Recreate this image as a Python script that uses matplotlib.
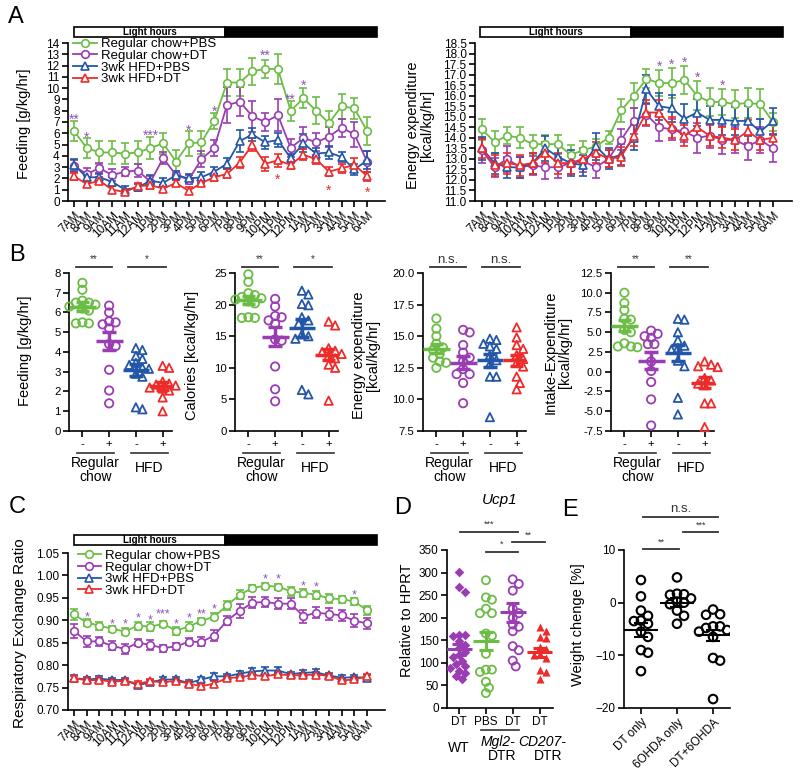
import numpy as np
import matplotlib.pyplot as plt
import matplotlib.transforms as mtransforms
from matplotlib.patches import Rectangle
from matplotlib.lines import Line2D

plt.rcParams['font.family'] = ['Liberation Sans', 'DejaVu Sans']
plt.rcParams['axes.linewidth'] = 1.2

GREEN = '#6cbd45'
PURPLE = '#9a3db2'
BLUE = '#2456a8'
RED = '#ee2b2b'
STAR_P = '#8e55b8'

hours = ['7AM', '8AM', '9AM', '10AM', '11AM', '12AM', '1PM', '2PM', '3PM', '4PM', '5PM', '6PM',
         '7PM', '8PM', '9PM', '10PM', '11PM', '12PM', '1AM', '2AM', '3AM', '4AM', '5AM', '6AM']
series_names = ['Regular chow+PBS', 'Regular chow+DT', '3wk HFD+PBS', '3wk HFD+DT']

# A: feeding [g/kg/hr]
feed_rc_pbs = [6.2, 4.7, 4.3, 4.3, 4.2, 4.3, 4.7, 5.1, 3.5, 5.1, 5.2, 7.1, 10.5, 10.5, 11.5, 11.7, 11.7, 8.0, 9.1, 8.0, 6.9, 8.4, 8.2, 6.2]
feed_rc_pbs_err = [0.9, 0.9, 1.0, 1.0, 0.9, 1.0, 1.0, 0.9, 1.0, 1.1, 1.0, 0.7, 1.2, 1.2, 1.2, 0.8, 1.3, 0.9, 0.9, 1.2, 1.1, 1.1, 0.9, 1.2]
feed_rc_dt = [3.1, 2.4, 2.9, 2.3, 2.6, 2.7, 1.7, 3.8, 2.3, 1.9, 3.7, 4.7, 8.5, 8.8, 7.5, 7.0, 7.6, 4.7, 5.6, 5.2, 5.7, 6.5, 5.9, 3.5]
feed_rc_dt_err = [0.5, 0.5, 0.5, 0.5, 0.4, 0.6, 0.5, 0.5, 0.4, 0.4, 0.7, 0.7, 1.6, 1.3, 1.4, 0.8, 1.4, 0.8, 1.0, 0.8, 0.9, 0.8, 1.1, 0.9]
feed_hfd_pbs = [3.2, 2.1, 2.1, 1.7, 1.0, 1.2, 1.8, 1.6, 2.3, 2.0, 2.1, 2.6, 3.3, 5.3, 5.9, 5.2, 5.4, 3.8, 5.1, 4.2, 4.3, 3.9, 2.8, 3.6]
feed_hfd_pbs_err = [0.5, 0.4, 0.4, 0.4, 0.3, 0.3, 0.5, 0.4, 0.4, 0.4, 0.5, 0.4, 0.5, 1.0, 0.6, 0.6, 0.6, 0.4, 0.8, 0.5, 0.6, 0.4, 0.5, 0.8]
feed_hfd_dt = [2.2, 1.5, 1.8, 1.0, 0.8, 1.3, 1.4, 1.1, 1.6, 0.9, 1.6, 2.1, 2.4, 3.4, 5.0, 3.3, 3.6, 3.2, 4.1, 3.7, 2.6, 2.9, 3.2, 2.2]
feed_hfd_dt_err = [0.3, 0.3, 0.3, 0.3, 0.2, 0.3, 0.3, 0.3, 0.3, 0.3, 0.3, 0.3, 0.4, 0.5, 0.6, 0.6, 0.6, 0.4, 0.5, 0.4, 0.4, 0.4, 0.6, 0.4]
feed_stars = [(0, 7.45, '**', STAR_P), (1, 5.9, '*', STAR_P), (6, 6.0, '***', STAR_P), (9, 6.45, '*', STAR_P),
              (11, 8.2, '*', STAR_P), (15, 13.1, '**', STAR_P), (17, 9.2, '**', STAR_P), (18, 10.45, '*', STAR_P),
              (16, 2.1, '*', RED), (20, 1.2, '*', RED), (23, 1.0, '*', RED)]

# A: energy expenditure [kcal/kg/hr]
ee_rc_pbs = [14.4, 13.8, 14.1, 14.0, 13.7, 13.7, 13.7, 13.2, 13.4, 13.6, 14.0, 15.3, 16.0, 16.8, 16.6, 16.6, 16.75, 16.0, 15.7, 15.7, 15.6, 15.65, 15.6, 14.75]
ee_rc_pbs_err = [0.5, 0.5, 0.4, 0.5, 0.45, 0.45, 0.45, 0.45, 0.45, 0.35, 0.3, 0.55, 0.6, 0.45, 0.6, 0.7, 0.65, 0.7, 0.65, 0.6, 0.65, 0.7, 0.7, 0.45]
ee_rc_dt = [13.4, 12.6, 13.0, 12.6, 12.7, 12.6, 12.6, 12.8, 12.9, 12.6, 13.0, 13.9, 14.8, 15.1, 14.5, 14.4, 14.3, 14.0, 14.1, 13.9, 13.9, 13.6, 13.9, 13.5]
ee_rc_dt_err = [0.6, 0.45, 0.6, 0.5, 0.45, 0.55, 0.5, 0.5, 0.5, 0.5, 0.4, 0.5, 0.6, 0.55, 0.65, 0.5, 0.5, 0.7, 0.6, 0.65, 0.6, 0.65, 0.6, 0.65]
ee_hfd_pbs = [13.5, 12.8, 12.6, 12.6, 12.8, 13.5, 13.1, 12.8, 12.7, 13.6, 13.0, 13.2, 14.0, 16.3, 15.5, 15.4, 14.9, 15.2, 14.85, 14.85, 14.8, 14.8, 14.3, 14.8]
ee_hfd_pbs_err = [0.55, 0.5, 0.5, 0.5, 0.5, 0.6, 0.6, 0.6, 0.5, 0.65, 0.5, 0.5, 0.6, 0.7, 0.65, 0.65, 0.7, 0.65, 0.65, 0.7, 0.65, 0.7, 0.6, 0.6]
ee_hfd_dt = [13.5, 12.7, 12.8, 12.7, 12.8, 13.3, 12.8, 12.8, 13.0, 13.3, 13.0, 13.1, 14.1, 15.2, 15.2, 14.5, 14.1, 14.5, 14.1, 14.0, 13.9, 14.3, 13.9, 14.0]
ee_hfd_dt_err = [0.45, 0.5, 0.5, 0.5, 0.5, 0.5, 0.5, 0.5, 0.5, 0.5, 0.4, 0.45, 0.5, 0.6, 0.6, 0.5, 0.5, 0.6, 0.5, 0.5, 0.5, 0.55, 0.5, 0.6]
ee_stars = [(14, 17.5, '*', STAR_P), (15, 17.6, '*', STAR_P), (16, 17.7, '*', STAR_P), (17, 17.0, '*', STAR_P), (19, 16.6, '*', STAR_P)]

# C: respiratory exchange ratio
rer_rc_pbs = [0.913, 0.895, 0.888, 0.881, 0.875, 0.888, 0.886, 0.892, 0.877, 0.886, 0.899, 0.908, 0.933, 0.957, 0.972, 0.977, 0.975, 0.965, 0.961, 0.957, 0.949, 0.947, 0.942, 0.922]
rer_rc_pbs_err = [0.012, 0.007, 0.009, 0.006, 0.008, 0.009, 0.010, 0.006, 0.009, 0.010, 0.007, 0.008, 0.009, 0.010, 0.007, 0.007, 0.007, 0.010, 0.008, 0.009, 0.010, 0.008, 0.007, 0.010]
rer_rc_dt = [0.876, 0.853, 0.853, 0.843, 0.836, 0.850, 0.845, 0.838, 0.842, 0.852, 0.852, 0.866, 0.899, 0.921, 0.939, 0.941, 0.937, 0.937, 0.909, 0.917, 0.914, 0.911, 0.899, 0.893]
rer_rc_dt_err = [0.015, 0.012, 0.010, 0.010, 0.012, 0.008, 0.012, 0.008, 0.008, 0.008, 0.010, 0.012, 0.010, 0.015, 0.012, 0.012, 0.012, 0.012, 0.015, 0.012, 0.013, 0.012, 0.014, 0.012]
rer_hfd_pbs = [0.771, 0.768, 0.770, 0.767, 0.767, 0.755, 0.762, 0.768, 0.768, 0.760, 0.768, 0.775, 0.775, 0.781, 0.786, 0.788, 0.788, 0.780, 0.783, 0.784, 0.777, 0.772, 0.773, 0.772]
rer_hfd_pbs_err = [0.007, 0.006, 0.005, 0.005, 0.005, 0.006, 0.005, 0.005, 0.005, 0.006, 0.005, 0.007, 0.005, 0.006, 0.007, 0.007, 0.007, 0.005, 0.006, 0.007, 0.006, 0.005, 0.005, 0.007]
rer_hfd_dt = [0.771, 0.766, 0.767, 0.763, 0.765, 0.759, 0.764, 0.762, 0.765, 0.759, 0.753, 0.759, 0.771, 0.773, 0.778, 0.775, 0.780, 0.777, 0.778, 0.779, 0.776, 0.766, 0.768, 0.775]
rer_hfd_dt_err = [0.005, 0.005, 0.005, 0.005, 0.004, 0.005, 0.005, 0.005, 0.004, 0.005, 0.005, 0.005, 0.004, 0.005, 0.005, 0.005, 0.005, 0.004, 0.005, 0.005, 0.005, 0.005, 0.005, 0.005]
rer_stars = [(1, 0.915, '*'), (3, 0.899, '*'), (4, 0.899, '*'), (5, 0.913, '*'), (6, 0.909, '*'), (7, 0.922, '***'),
             (8, 0.899, '*'), (9, 0.913, '*'), (10, 0.922, '**'), (11, 0.933, '*'), (15, 1.0, '*'), (16, 1.0, '*'),
             (18, 0.985, '*'), (19, 0.983, '*'), (22, 0.965, '*')]

# B: per-mouse averages (regular chow -/+ DT, HFD -/+ DT)
b_ticks = ['-', '+', '-', '+']
b_feed = [[7.5, 7.15, 6.6, 6.5, 6.5, 6.4, 6.3, 6.2, 6.1, 5.45, 5.45, 5.5],
          [6.35, 6.0, 5.55, 5.5, 5.4, 5.2, 4.4, 4.3, 3.1, 2.05, 1.4],
          [4.2, 4.1, 3.8, 3.65, 3.45, 3.35, 3.2, 3.15, 2.9, 2.75, 1.2, 1.1],
          [3.3, 3.2, 2.5, 2.4, 2.35, 2.3, 2.2, 2.15, 2.05, 1.7, 1.0]]
b_feed_mean = [6.3, 4.55, 3.1, 2.3]
b_feed_sem = [0.22, 0.45, 0.3, 0.2]
b_cal = [[24.8, 23.6, 21.8, 21.5, 21.2, 21.0, 20.8, 20.5, 20.2, 18.0, 17.9, 17.9],
         [20.9, 19.7, 18.2, 18.0, 17.5, 17.0, 14.5, 14.3, 10.2, 6.6, 4.7],
         [22.2, 21.6, 20.1, 19.9, 18.0, 17.5, 17.0, 15.3, 15.0, 14.6, 6.5, 5.8],
         [17.3, 16.7, 13.1, 12.7, 12.5, 12.2, 11.9, 11.5, 10.5, 10.0, 4.8]]
b_cal_mean = [20.7, 14.9, 16.3, 12.1]
b_cal_sem = [0.6, 1.5, 1.4, 0.9]
b_ee = [[16.4, 15.6, 15.0, 14.4, 14.1, 13.9, 13.6, 13.3, 13.0, 12.9, 12.5],
        [15.5, 15.3, 14.3, 13.7, 13.3, 13.0, 12.4, 12.0, 12.0, 11.3, 9.7],
        [14.8, 14.7, 14.4, 14.2, 14.0, 13.5, 13.1, 12.8, 11.8, 11.8, 8.6],
        [15.7, 14.9, 14.3, 14.0, 13.5, 13.2, 12.9, 12.6, 11.8, 11.3, 10.8]]
b_ee_mean = [14.0, 12.9, 13.1, 13.1]
b_ee_sem = [0.35, 0.5, 0.5, 0.45]
b_ie = [[10.0, 8.7, 7.8, 6.7, 6.6, 5.3, 5.0, 3.6, 3.2, 3.1, 3.2],
        [5.2, 4.8, 4.5, 4.3, 3.5, 3.5, 1.3, 0.1, -1.3, -3.5, -6.8],
        [6.7, 6.6, 5.0, 4.0, 3.3, 3.0, 2.8, 1.4, 0.7, -3.3, -5.4],
        [1.3, 0.9, 0.7, 0.6, -0.8, -1.1, -1.5, -1.7, -4.0, -4.0, -7.0]]
b_ie_mean = [5.8, 1.4, 2.4, -1.4]
b_ie_sem = [0.7, 1.05, 1.0, 0.7]

# D: Ucp1 relative to HPRT
d_ticks = ['DT', 'PBS', 'DT', 'DT']
d_wt_dt = [302, 268, 257, 162, 162, 160, 148, 140, 132, 125, 118, 112, 105, 98, 92, 88, 82, 78, 70, 64]
d_mgl2_pbs = [283, 245, 240, 220, 210, 210, 165, 160, 120, 85, 85, 80, 58, 45, 33]
d_mgl2_dt = [285, 275, 260, 220, 210, 200, 185, 180, 170, 137, 128, 105, 92]
d_cd207_dt = [180, 170, 158, 155, 135, 130, 120, 118, 110, 85, 80, 65]
d_mean = [130, 148, 212, 124]
d_sem = [12, 20, 21, 10]

# E: weight change [%]
e_ticks = ['DT only', '6OHDA only', 'DT+6OHDA']
e_dt = [4.3, 1.2, -1.5, -2.5, -3.4, -3.5, -4.0, -5.5, -6.5, -9.0, -9.5, -13.0]
e_6ohda = [4.8, 1.7, 1.6, 1.5, 0.8, 0.2, 0.0, -0.3, -1.5, -2.5, -4.0]
e_both = [-1.3, -2.2, -2.3, -4.5, -4.5, -4.8, -5.2, -5.5, -6.5, -10.5, -11.0, -18.3]
e_mean = [-5.2, 0.0, -6.2]
e_sem = [1.4, 0.8, 1.1]

W, H = 800, 774
fig = plt.figure(figsize=(8, 7.74), dpi=100)


def add_ax(l, t, r, b):
    return fig.add_axes([l / W, 1 - b / H, (r - l) / W, (b - t) / H])


def ftext(x, y, s, **kw):
    fig.text(x / W, 1 - y / H, s, **kw)


def style(ax, fs=8.5):
    for s in ['top', 'right']:
        ax.spines[s].set_visible(False)
    ax.tick_params(direction='out', length=4, width=1.2, labelsize=fs, pad=2)


def light_bar(ax, x0, xm, x1, y0, y1):
    tr = mtransforms.blended_transform_factory(ax.transData, ax.transAxes)
    ax.add_patch(Rectangle((x0, y0), xm - x0, y1 - y0, transform=tr, fc='white', ec='black', lw=1.2, clip_on=False))
    ax.add_patch(Rectangle((xm, y0), x1 - xm, y1 - y0, transform=tr, fc='black', ec='black', lw=1.2, clip_on=False))
    ax.text((x0 + xm) / 2, (y0 + y1) / 2, 'Light hours', transform=tr, ha='center', va='center',
            fontsize=7, fontweight='bold')


def stars(ax, items, fs=10):
    for it in items:
        x, y, s = it[0], it[1], it[2]
        c = it[3] if len(it) > 3 else STAR_P
        ax.annotate(s, (x, y), xytext=(0, -5), textcoords='offset points', ha='center', va='baseline',
                    color=c, fontsize=fs)


def time_panel(ax, series, ylim, yticks, yfmt, xlim):
    x = np.arange(len(hours))
    for m, e, c, mk in series:
        ax.errorbar(x, m, yerr=e, color=c, marker=mk, ms=5.5, mfc='white', mec=c, mew=1.2, lw=1.3,
                    elinewidth=1.2, capsize=3, capthick=1.2)
    ax.set_xlim(*xlim)
    ax.set_ylim(*ylim)
    ax.set_yticks(yticks)
    ax.set_yticklabels([yfmt % v for v in yticks])
    ax.set_xticks(x)
    ax.set_xticklabels(hours, rotation=45, ha='right', rotation_mode='anchor', fontsize=6.5)
    style(ax)


def legend(ax, anchor):
    cols = [GREEN, PURPLE, BLUE, RED]
    mks = ['o', 'o', '^', '^']
    hs = [Line2D([], [], color=c, marker=m, ms=5.5, mfc='white', mew=1.2, lw=1.3) for c, m in zip(cols, mks)]
    ax.legend(hs, series_names, loc='upper left', bbox_to_anchor=anchor, frameon=False, fontsize=9.5,
              handlelength=1.8, handletextpad=0.3, labelspacing=-0.05, borderpad=0, borderaxespad=0)


def swarm(vals, ypx, xpx, diam):
    placed = []
    offs = np.zeros(len(vals))
    cands = [0.0] + [s * k * diam * 0.5 for k in range(1, 14) for s in (1, -1)]
    for i in np.argsort(vals)[::-1]:
        y = vals[i] * ypx
        xo = cands[-1]
        for c in cands:
            if all(np.hypot(c - px, y - py) >= diam for px, py in placed):
                xo = c
                break
        placed.append((xo, y))
        offs[i] = xo / xpx
    return offs


def mean_sem(ax, x, m, s, c, hw=0.5, cw=0.25, lw=2.5):
    ax.hlines(m, x - hw, x + hw, color=c, lw=lw, zorder=4)
    ax.vlines(x, m - s, m + s, color=c, lw=lw, zorder=4)
    ax.hlines([m - s, m + s], x - cw, x + cw, color=c, lw=lw, zorder=4)


def sig(ax, x0, x1, y, txt, fs, ty=None):
    tr = mtransforms.blended_transform_factory(ax.transData, ax.transAxes)
    ax.plot([x0, x1], [y, y], color='#333333', lw=1.3, transform=tr, clip_on=False)
    ax.text((x0 + x1) / 2, ty if ty is not None else y + 0.045, txt, transform=tr, ha='center', va='center',
            fontsize=fs, color='#333333')


# ---------------- panel A ----------------
axA1 = add_ax(68, 43, 385, 201)
time_panel(axA1, [(feed_rc_pbs, feed_rc_pbs_err, GREEN, 'o'), (feed_rc_dt, feed_rc_dt_err, PURPLE, 'o'),
                  (feed_hfd_pbs, feed_hfd_pbs_err, BLUE, '^'), (feed_hfd_dt, feed_hfd_dt_err, RED, '^')],
           (0, 14), np.arange(0, 15, 1), '%d', (-0.47, 24.4))
light_bar(axA1, 0, 11.85, 23.8, 1.038, 1.101)
legend(axA1, (0.016, 1.03))
stars(axA1, feed_stars)
ftext(24, 124, 'Feeding [g/kg/hr]', rotation=90, ha='center', va='center', fontsize=10.5)

axA2 = add_ax(475, 43, 792, 201)
time_panel(axA2, [(ee_rc_pbs, ee_rc_pbs_err, GREEN, 'o'), (ee_rc_dt, ee_rc_dt_err, PURPLE, 'o'),
                  (ee_hfd_pbs, ee_hfd_pbs_err, BLUE, '^'), (ee_hfd_dt, ee_hfd_dt_err, RED, '^')],
           (11, 18.5), np.arange(11, 18.51, 0.5), '%.1f', (-0.55, 24.5))
light_bar(axA2, -0.15, 11.8, 23.8, 1.038, 1.101)
stars(axA2, ee_stars)
ftext(420, 125, 'Energy expenditure\n[kcal/kg/hr]', rotation=90, ha='center', va='center', fontsize=10.5,
      linespacing=1.0)

# ---------------- panel B ----------------
b_cols = [GREEN, PURPLE, BLUE, RED]
b_mks = ['o', 'o', '^', '^']


def b_panel(left, vals, means, sems, ylim, yticks, yfmt, sig_txt, sig_fs):
    ax = add_ax(left, 273, left + 103, 431)
    ypx = 158 / (ylim[1] - ylim[0])
    xpx = 103 / 3.85
    for i, (v, m, s) in enumerate(zip(vals, means, sems)):
        offs = swarm(np.array(v), ypx, xpx, 6.5)
        ax.scatter(i + offs, v, s=36, marker=b_mks[i], facecolors='none', edgecolors=b_cols[i],
                   linewidths=1.3, zorder=3, clip_on=False)
        mean_sem(ax, i, m, s, b_cols[i])
    ax.set_xlim(-0.5, 3.35)
    ax.set_ylim(*ylim)
    ax.set_yticks(yticks)
    ax.set_yticklabels([yfmt % t for t in yticks])
    ax.set_xticks(range(4))
    ax.set_xticklabels(b_ticks, fontsize=10)
    style(ax, 8.2)
    tr = mtransforms.blended_transform_factory(ax.transData, ax.transAxes)
    for a, b in [(-0.2, 1.2), (1.8, 3.2)]:
        ax.plot([a, b], [-0.139, -0.139], color='#333333', lw=1.2, transform=tr, clip_on=False)
    ax.text(0.5, -0.245, 'Regular\nchow', transform=tr, ha='center', va='center', fontsize=10, linespacing=1.0)
    ax.text(2.5, -0.232, 'HFD', transform=tr, ha='center', va='center', fontsize=10)
    sig(ax, -0.25, 1.12, 1.038, sig_txt[0], sig_fs, 1.085)
    sig(ax, 1.7, 3.12, 1.038, sig_txt[1], sig_fs, 1.085)
    return ax


b_panel(69, b_feed, b_feed_mean, b_feed_sem, (0, 8), np.arange(0, 9, 1), '%d', ['**', '*'], 7)
ftext(25, 351, 'Feeding [g/kg/hr]', rotation=90, ha='center', va='center', fontsize=10.5)
b_panel(235, b_cal, b_cal_mean, b_cal_sem, (0, 25), np.arange(0, 26, 5), '%d', ['**', '*'], 7)
ftext(192, 355, 'Calories [kcal/kg/hr]', rotation=90, ha='center', va='center', fontsize=10.5)
b_panel(423, b_ee, b_ee_mean, b_ee_sem, (7.5, 20), np.arange(7.5, 20.01, 2.5), '%.1f', ['n.s.', 'n.s.'], 9.5)
ftext(366, 355, 'Energy expenditure\n[kcal/kg/hr]', rotation=90, ha='center', va='center', fontsize=10.5,
      linespacing=1.0)
b_panel(611, b_ie, b_ie_mean, b_ie_sem, (-7.5, 12.5), np.arange(-7.5, 12.51, 2.5), '%.1f', ['**', '**'], 7)
ftext(558, 352, 'Intake-Expenditure\n[kcal/kg/hr]', rotation=90, ha='center', va='center', fontsize=10.5,
      linespacing=1.0)

# ---------------- panel C ----------------
axC = add_ax(68, 553, 385, 710)
time_panel(axC, [(rer_rc_pbs, rer_rc_pbs_err, GREEN, 'o'), (rer_rc_dt, rer_rc_dt_err, PURPLE, 'o'),
                 (rer_hfd_pbs, rer_hfd_pbs_err, BLUE, '^'), (rer_hfd_dt, rer_hfd_dt_err, RED, '^')],
           (0.70, 1.05), np.arange(0.70, 1.051, 0.05), '%.2f', (-0.47, 24.4))
light_bar(axC, 0, 11.85, 23.8, 1.051, 1.115)
legend(axC, (0.03, 1.02))
stars(axC, rer_stars, 9)
ftext(20, 633, 'Respiratory Exchange Ratio', rotation=90, ha='center', va='center', fontsize=11)

# ---------------- panel D ----------------
axD = add_ax(447, 550, 553, 708)
d_vals = [d_wt_dt, d_mgl2_pbs, d_mgl2_dt, d_cd207_dt]
d_cols = [PURPLE, GREEN, PURPLE, RED]
d_mks = ['D', 'o', 'o', '^']
d_fill = [True, False, False, True]
for i, v in enumerate(d_vals):
    offs = swarm(np.array(v), 158 / 350, 26.8, 6.0)
    if d_fill[i]:
        axD.scatter(i + offs, v, s=24 if d_mks[i] == 'D' else 34, marker=d_mks[i], color=d_cols[i],
                    linewidths=0, zorder=3)
    else:
        axD.scatter(i + offs, v, s=34, marker=d_mks[i], facecolors='none', edgecolors=d_cols[i],
                    linewidths=1.3, zorder=3)
    mean_sem(axD, i, d_mean[i], d_sem[i], d_cols[i], hw=0.48, cw=0.25, lw=2.2)
axD.set_xlim(-0.45, 3.5)
axD.set_ylim(0, 350)
axD.set_yticks(np.arange(0, 351, 50))
axD.set_xticks(range(4))
axD.set_xticklabels(d_ticks, fontsize=10)
style(axD, 8.5)
axD.set_title('Ucp1', fontsize=11, style='italic', pad=0, x=0.5, y=1.29)
trD = mtransforms.blended_transform_factory(axD.transData, axD.transAxes)
axD.plot([0.8, 2.25], [-0.139, -0.139], color='#333333', lw=1.2, transform=trD, clip_on=False)
axD.text(0, -0.253, 'WT', transform=trD, ha='center', va='center', fontsize=10)
axD.text(1.45, -0.215, 'Mgl2-', transform=trD, ha='center', va='center', fontsize=10, style='italic')
axD.text(1.6, -0.305, 'DTR', transform=trD, ha='center', va='center', fontsize=10)
axD.text(3.1, -0.215, 'CD207-', transform=trD, ha='center', va='center', fontsize=10, style='italic')
axD.text(3.3, -0.305, 'DTR', transform=trD, ha='center', va='center', fontsize=10)
sig(axD, 0.04, 2.2, 1.114, '***', 6.5, 1.16)
sig(axD, 1.0, 2.2, 0.99, '*', 6.5, 1.035)
sig(axD, 1.98, 3.2, 1.05, '**', 6.5, 1.095)
ftext(407, 620, 'Relative to HPRT', rotation=90, ha='center', va='center', fontsize=10.5)

# ---------------- panel E ----------------
axE = add_ax(624, 550, 730, 708)
e_vals = [e_dt, e_6ohda, e_both]
for i, v in enumerate(e_vals):
    offs = swarm(np.array(v), 158 / 30, 36.0, 7.0)
    axE.scatter(i + offs, v, s=38, marker='o', facecolors='none', edgecolors='black', linewidths=1.5, zorder=3)
    mean_sem(axE, i, e_mean[i], e_sem[i], 'black', hw=0.48, cw=0.2, lw=1.5)
axE.set_xlim(-0.47, 2.47)
axE.set_ylim(-20, 10)
axE.set_yticks([-20, -10, 0, 10])
axE.set_xticks(range(3))
axE.set_xticklabels(e_ticks, rotation=45, ha='right', rotation_mode='anchor', fontsize=10)
style(axE, 8.5)
sig(axE, 0.06, 2.14, 1.209, 'n.s.', 9.5, 1.26)
sig(axE, 1.17, 2.14, 1.114, '***', 6.5, 1.158)
sig(axE, 0.06, 1.05, 1.006, '**', 6.5, 1.05)
ftext(578, 625, 'Weight chenge [%]', rotation=90, ha='center', va='center', fontsize=10.5)

# panel letters
for lab, x, y in [('A', 16, 17), ('B', 17, 255), ('C', 17, 507), ('D', 403, 508), ('E', 570, 510)]:
    ftext(x, y, lab, ha='center', va='center', fontsize=17)

fig.savefig('out.png', dpi=100)
